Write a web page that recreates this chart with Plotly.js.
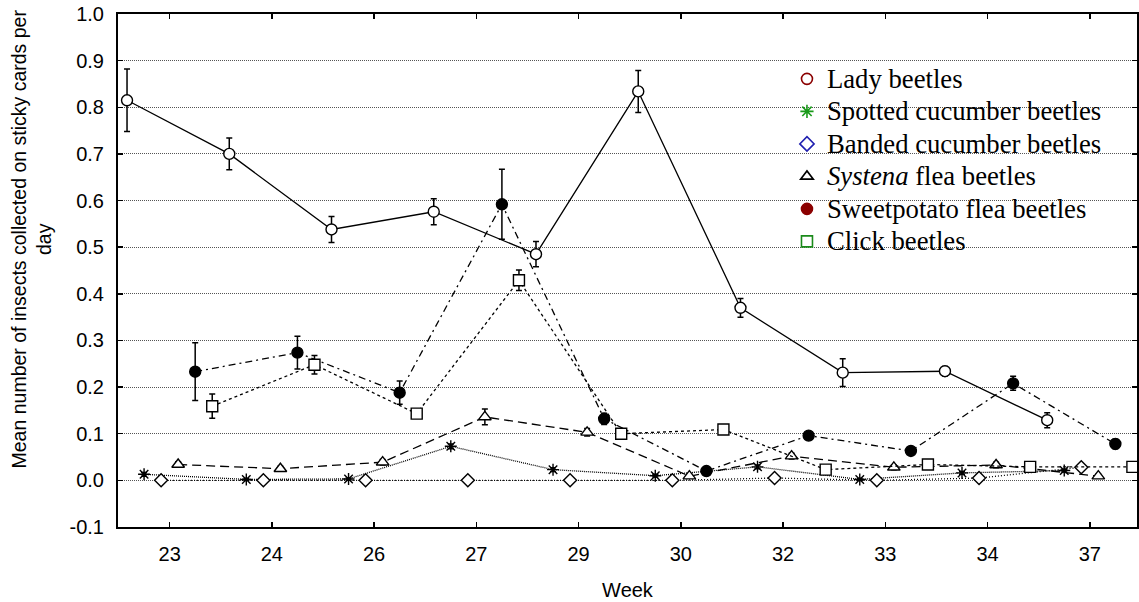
<!DOCTYPE html>
<html>
<head>
<meta charset="utf-8">
<script src="https://cdn.plot.ly/plotly-3.0.1.min.js"></script>
<style>html,body{margin:0;padding:0;background:#fff;}#chart{width:1139px;height:602px;}</style>
</head>
<body>
<div id="chart"></div>
<script>
// ---- data ----
const weeks = ['23','24','26','27','29','30','32','33','34','37'];

const ladyBeetles      = [0.815,0.700,0.538,0.576,0.485,0.834,0.370,0.231,0.234,0.129];
const ladyBeetlesErr   = [0.067,0.034,0.028,0.028,0.027,0.045,0.020,0.030,0.010,0.016];

const spottedCucumber    = [0.013,0.002,0.003,0.073,0.023,0.010,0.029,0.002,0.016,0.021];
const spottedCucumberErr = [0.004,0.002,0.002,0.005,0.004,0.003,0.004,0.002,0.003,0.003];

const bandedCucumber    = [0.000,0.000,0.000,0.000,0.000,0.000,0.005,0.000,0.005,0.028];
const bandedCucumberErr = [0.001,0.001,0.001,0.001,0.001,0.001,0.003,0.001,0.003,0.004];

const systenaFlea    = [0.034,0.025,0.039,0.136,0.103,0.009,0.052,0.028,0.033,0.009];
const systenaFleaErr = [0.006,0.005,0.006,0.017,0.008,0.004,0.006,0.005,0.006,0.004];

const sweetpotatoFlea    = [0.233,0.274,0.188,0.592,0.132,0.020,0.096,0.063,0.208,0.078];
const sweetpotatoFleaErr = [0.062,0.035,0.025,0.075,0.012,0.004,0.006,0.006,0.015,0.010];

const clickBeetles    = [0.159,0.248,0.143,0.429,0.100,0.109,0.023,0.034,0.029,0.029];
const clickBeetlesErr = [0.026,0.020,0.007,0.022,0.005,0.006,0.004,0.004,0.004,0.004];

const yTickValues = [-0.1,0.0,0.1,0.2,0.3,0.4,0.5,0.6,0.7,0.8,0.9,1.0];

// ---- series definitions ----
const series = [
  {name:'Lady beetles', y:ladyBeetles, err:ladyBeetlesErr,
   symbol:'circle', fill:'#ffffff', size:11, dash:'solid',
   legSymbol:'circle', legFill:'#ffffff', legLine:'#8b0000'},
  {name:'Spotted cucumber beetles', y:spottedCucumber, err:spottedCucumberErr,
   symbol:'asterisk-open', fill:'#000000', size:10, dash:'1px,1px',
   legSymbol:'asterisk-open', legFill:'#1a9a1a', legLine:'#1a9a1a'},
  {name:'Banded cucumber beetles', y:bandedCucumber, err:bandedCucumberErr,
   symbol:'diamond', fill:'#ffffff', size:10, dash:'1px,2px',
   legSymbol:'diamond', legFill:'#ffffff', legLine:'#2020b0'},
  {name:'<i>Systena</i> flea beetles', y:systenaFlea, err:systenaFleaErr,
   symbol:'triangle-up', fill:'#ffffff', size:11, dash:'9px,5px',
   legSymbol:'triangle-up', legFill:'#ffffff', legLine:'#000000'},
  {name:'Sweetpotato flea beetles', y:sweetpotatoFlea, err:sweetpotatoFleaErr,
   symbol:'circle', fill:'#000000', size:11, dash:'7px,4px,2px,4px',
   legSymbol:'circle', legFill:'#8b0000', legLine:'#8b0000'},
  {name:'Click beetles', y:clickBeetles, err:clickBeetlesErr,
   symbol:'square', fill:'#ffffff', size:11, dash:'3px,3px',
   legSymbol:'square', legFill:'#ffffff', legLine:'#1a8a1a'}
];

const nSeries = series.length;
const traces = [];

// plotted traces (black), each series offset within its week group
series.forEach((s, si) => {
  const xs = weeks.map((w, wi) => wi * nSeries + si);
  traces.push({
    type:'scatter', mode:'lines+markers', x:xs, y:s.y, name:s.name,
    showlegend:false,
    line:{color:'#000000', width:1.3, dash:s.dash},
    marker:{symbol:s.symbol, size:s.size, color:s.fill,
            line:{color:'#000000', width:1.4}},
    error_y:{type:'data', array:s.err, visible:true, color:'#000000', thickness:1.5, width:3},
    hoverinfo:'skip'
  });
});

// legend-only entries (coloured symbols, like the reference legend)
series.forEach((s, si) => {
  traces.push({
    type:'scatter', mode:'markers', x:[null], y:[null],
    name:'<span style="font-size:26.7px">' + s.name + '</span>',
    showlegend:true, legendgroup:'g' + si,
    marker:{symbol:s.legSymbol, size:11, color:s.legFill,
            line:{color:s.legLine, width:1.6}}
  });
});

const layout = {
  width:1139, height:602,
  margin:{l:118, r:2, t:14, b:75, pad:0},
  paper_bgcolor:'#ffffff', plot_bgcolor:'#ffffff',
  font:{family:'"Liberation Sans", Arial, sans-serif', size:20, color:'#000000'},
  xaxis:{
    range:[-0.53, 59.27],
    tickmode:'array',
    tickvals: weeks.map((w, wi) => wi * nSeries + (nSeries - 1) / 2),
    ticktext: weeks,
    ticks:'inside', ticklen:5, tickwidth:1.5, tickcolor:'#000',
    showline:true, linecolor:'#000', linewidth:2, mirror:'ticks',
    showgrid:false, zeroline:false,
    tickfont:{size:20},
    ticklabelstandoff:8,
    title:{text:'Week', font:{size:20}, standoff:19}
  },
  yaxis:{
    range:[-0.1, 1.0],
    tickmode:'array',
    tickvals:yTickValues,
    ticktext:yTickValues.map(v => v.toFixed(1)),
    ticks:'inside', ticklen:5, tickwidth:1.5, tickcolor:'#000',
    showline:true, linecolor:'#000', linewidth:2, mirror:'ticks',
    showgrid:true, gridcolor:'#555555', gridwidth:1, griddash:'1px,1px',
    zeroline:false,
    tickfont:{size:20},
    ticklabelstandoff:8
  },
  legend:{
    x:0.6565, xanchor:'left', y:0.915, yanchor:'top',
    bgcolor:'rgba(0,0,0,0)', borderwidth:0,
    font:{family:'"Liberation Serif", "Times New Roman", serif', size:22.7, color:'#000'},
    tracegroupgap:0, traceorder:'normal',
    itemclick:false, itemdoubleclick:false
  },
  annotations:[{
    text:'Mean number of insects collected on sticky cards per<br>day',
    xref:'paper', yref:'paper',
    x:-87/1019, y:(527.5-240)/513,
    xanchor:'center', yanchor:'middle',
    textangle:-90, showarrow:false,
    font:{size:19.5, family:'"Liberation Sans", Arial, sans-serif', color:'#000'}
  }],
  showlegend:true
};

Plotly.newPlot('chart', traces, layout, {displayModeBar:false, staticPlot:true});
</script>
</body>
</html>
